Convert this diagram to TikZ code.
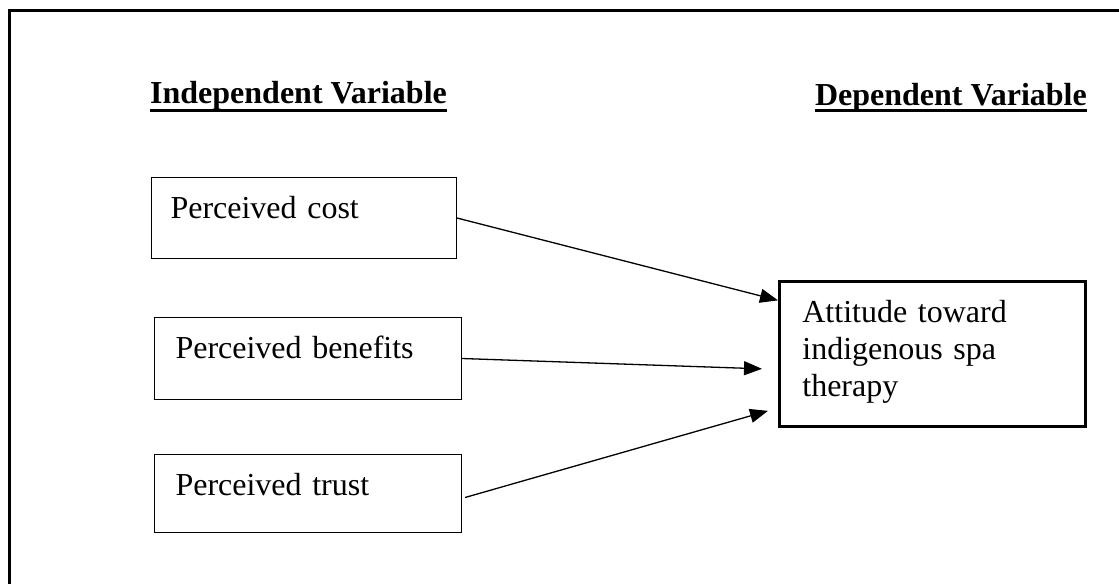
\documentclass[tikz,border=0pt]{standalone}
\usepackage{fontspec}
\setmainfont{Liberation Serif}
\usetikzlibrary{arrows.meta}
\begin{document}
\begin{tikzpicture}[x=1pt, y=-1pt]
				\tikzset{boite/.style={draw=black, line width=1pt, anchor=north west, align=left, inner ysep=0pt, text height=41pt, font=\fontsize{32}{37}\selectfont},
				titre/.style={inner sep=0pt, font=\bfseries\fontsize{32}{37}\selectfont},
				souligne/.style={line width=3pt},
				fleche/.style={line width=1.3pt, -{Triangle[length=18pt, width=14pt]}}};
				\useasboundingbox (0,0) rectangle (1119,584);
				\draw[line width=2.7pt] (9.7,584) -- (9.7,10.5) -- (1119,10.5);

				\node[titre, anchor=base west] (indep) at (150,103.5) {Independent Variable};
				\node[titre, anchor=base east] (dep) at (1087,105) {Dependent Variable};
				\draw[souligne] ([yshift=-6.5pt]indep.base west) -- ([yshift=-6.5pt]indep.base east);
				\draw[souligne] ([yshift=-5.5pt]dep.base west) -- ([yshift=-5.5pt]dep.base east);

				\node[boite, inner xsep=19pt, text width=267pt, text depth=40pt] (cost) at (151,177) {Perceived cost};
				\node[boite, inner xsep=21pt, text width=265pt, text depth=41pt] (benefits) at (154,317) {Perceived benefits};
				\node[boite, inner xsep=21pt, text width=265pt, text depth=37pt] (trust) at (154,454) {Perceived trust};
				\node[boite, line width=2.7pt, inner xsep=23pt, text width=260pt, text depth=104pt] (attitude) at (778,280) {Attitude toward\\ indigenous spa\\ therapy};

				\draw[fleche] (cost.east) -- ([yshift=53.5pt]attitude.west);
				\draw[fleche] (benefits.east) -- ([xshift=-16pt, yshift=-15pt]attitude.west);
				\draw[fleche] ([xshift=3pt, yshift=-4pt]trust.east) -- ([xshift=-10pt, yshift=-57pt]attitude.west);
			\end{tikzpicture}
\end{document}
